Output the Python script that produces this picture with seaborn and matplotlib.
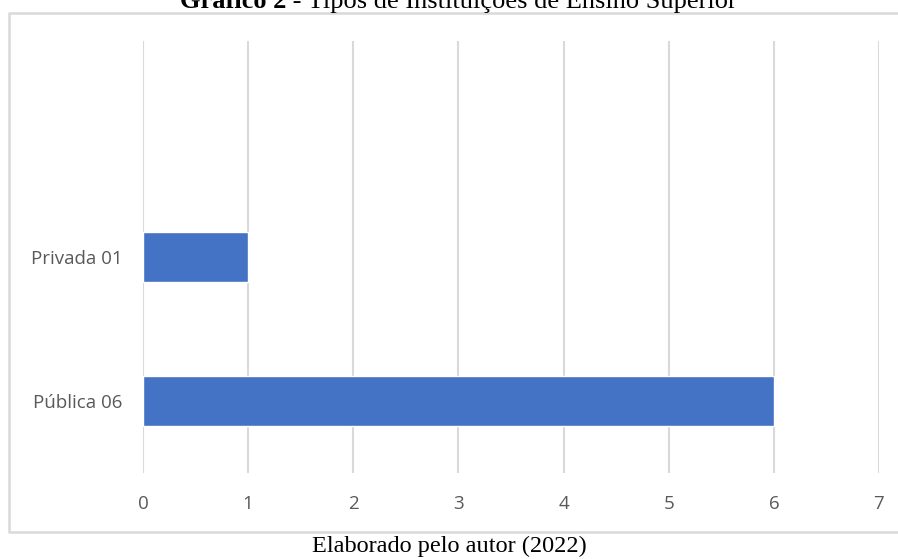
import matplotlib
matplotlib.use("Agg")
import matplotlib.pyplot as plt
import seaborn as sns
import pandas as pd
from matplotlib.lines import Line2D

# Data
categorias = ["Privada 01", "Pública 06"]
valores = [1, 6]
ordem = ["", "Privada 01", "Pública 06"]
ticks_x = [0, 1, 2, 3, 4, 5, 6, 7]

df = pd.DataFrame({"categoria": categorias, "valor": valores})

sns.set_theme(style="white")
plt.rcParams["font.family"] = ["Open Sans", "DejaVu Sans"]

W, H = 898, 559
fig = plt.figure(figsize=(W / 100, H / 100), dpi=100)
ax = fig.add_axes([143 / W, (H - 473) / H, (879 - 143) / W, (473 - 41) / H])

sns.barplot(data=df, x="valor", y="categoria", order=ordem, orient="h",
            color="#4472C4", saturation=1, width=0.35, ax=ax, errorbar=None)

ax.set_xlim(0, 7)
ax.set_ylim(2.5, -0.5)
ax.set_xticks(ticks_x)
ax.set_xticklabels([str(t) for t in ticks_x])
ax.set_xlabel("")
ax.set_ylabel("")
ax.grid(axis="x", color="#d9d9d9", linewidth=1.5)
ax.set_axisbelow(True)
for s in ax.spines.values():
    s.set_visible(False)
ax.tick_params(axis="x", length=0, pad=15.5, labelsize=13.5, labelcolor="#595959")
ax.tick_params(axis="y", length=0, pad=15, labelsize=13.5, labelcolor="#595959")

# Outer chart border: top, left and bottom sides (the right side runs off the image)
x0, y_top, y_bot = 9 / W, 1 - 13 / H, 1 - 532 / H
fig.add_artist(Line2D([1.0, x0, x0, 1.0], [y_top, y_top, y_bot, y_bot],
                      transform=fig.transFigure, color="#d9d9d9", linewidth=1.8))

# Title and source line
serif = ["Liberation Serif", "DejaVu Serif"]
t1 = fig.text(180 / W, 1 - 8 / H, "Gráfico 2", family=serif, fontsize=19,
              fontweight="bold", va="baseline", ha="left", color="black")
fig.canvas.draw()
bb = t1.get_window_extent()
fig.text(bb.x1 / W, 1 - 8 / H, " - Tipos de Instituições de Ensino Superior",
         family=serif, fontsize=19, va="baseline", ha="left", color="black")
fig.text(449 / W, 1 - 552 / H, "Elaborado pelo autor (2022)", family=serif,
         fontsize=17.5, va="baseline", ha="center", color="black")

fig.savefig("out.png", dpi=100)
